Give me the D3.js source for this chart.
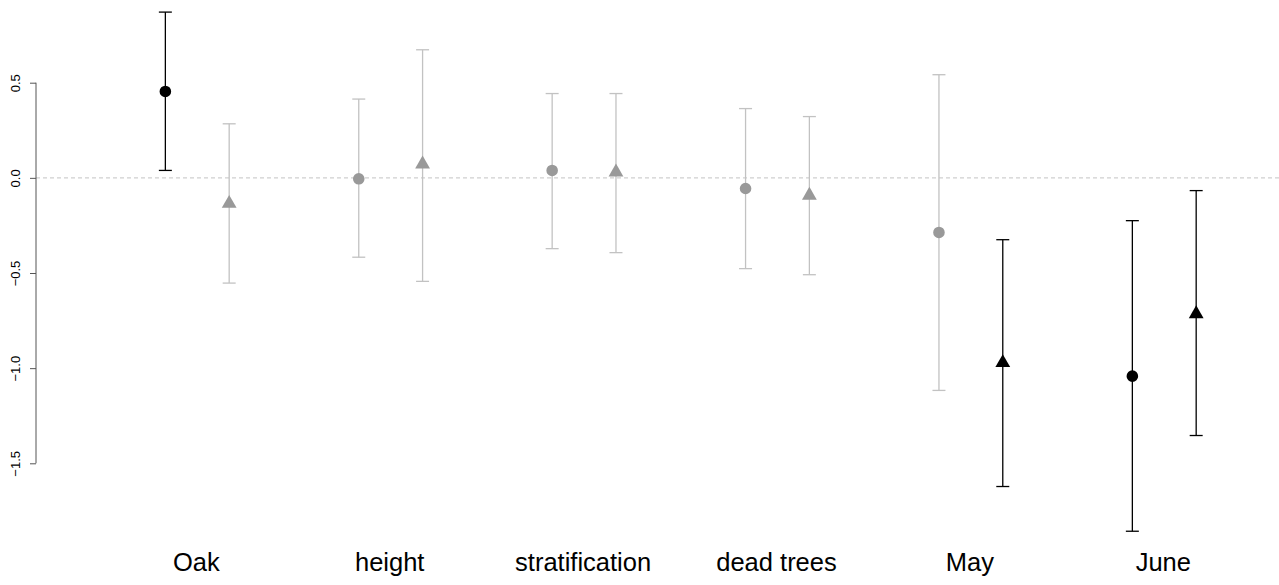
<!DOCTYPE html>
<html>
<head>
<meta charset="utf-8">
<script src="https://cdn.jsdelivr.net/npm/d3@7"></script>
<style>
  html, body { margin: 0; padding: 0; background: #fff; }
  svg { display: block; font-family: "Liberation Sans", Arial, sans-serif; }
</style>
</head>
<body>
<div id="chart"></div>
<script>
// categories along the x axis
const categories = ["Oak", "height", "stratification", "dead trees", "May", "June"];

// first estimate per category (circles)
const circleEst = [0.454, -0.005, 0.039, -0.056, -0.287, -1.042];
const circleLo = [0.039, -0.417, -0.372, -0.477, -1.117, -1.857];
const circleHi = [0.871, 0.414, 0.443, 0.364, 0.542, -0.225];

// second estimate per category (triangles)
const triEst = [-0.135, 0.072, 0.030, -0.092, -0.972, -0.715];
const triLo = [-0.553, -0.544, -0.393, -0.509, -1.622, -1.354];
const triHi = [0.284, 0.673, 0.443, 0.322, -0.325, -0.067];

const yTicks = [0.5, 0.0, -0.5, -1.0, -1.5];

const width = 1279;
const height = 585;

const svg = d3.select("#chart")
  .append("svg")
  .attr("width", width)
  .attr("height", height);

const x = d3.scaleLinear().domain([0, 5]).range([196.3, 1163.3]);
const y = d3.scaleLinear().domain([-1.5, 0.5]).range([463.3, 82.7]);

// build point records
const points = [];
categories.forEach((c, i) => {
  points.push({ i: i, off: -0.16, est: circleEst[i], lo: circleLo[i], hi: circleHi[i], shape: "circle" });
  points.push({ i: i, off: 0.17, est: triEst[i], lo: triLo[i], hi: triHi[i], shape: "triangle" });
});
// black when the interval excludes zero
points.forEach(d => { d.sig = d.lo > 0 || d.hi < 0; });

// zero reference line
svg.append("line")
  .attr("x1", 36).attr("x2", width)
  .attr("y1", y(0)).attr("y2", y(0))
  .attr("stroke", "#cfcfcf")
  .attr("stroke-width", 1.2)
  .attr("stroke-dasharray", "4,3");

// y axis
const yAxis = svg.append("g")
  .attr("transform", "translate(36,0)")
  .call(d3.axisLeft(y).tickValues(yTicks).tickSize(6).tickFormat(d3.format(".1f")));
yAxis.select(".domain").attr("stroke", "#555").attr("d", `M0,${y(0.5)}V${y(-1.5)}`);
yAxis.selectAll(".tick line").attr("stroke", "#555");
yAxis.selectAll(".tick text")
  .attr("x", 0).attr("dy", 0)
  .attr("transform", "translate(-16,0) rotate(-90)")
  .attr("text-anchor", "middle")
  .attr("font-size", 13)
  .attr("font-family", "Liberation Sans, Arial, sans-serif")
  .attr("fill", "#000");

// error bars
const capW = 6.5;
const bars = svg.append("g");
points.forEach(d => {
  const cx = x(d.i + d.off);
  const col = d.sig ? "#000" : "#c2c2c2";
  const g = bars.append("g").attr("stroke", col).attr("stroke-width", 1.3);
  g.append("line").attr("x1", cx).attr("x2", cx).attr("y1", y(d.hi)).attr("y2", y(d.lo));
  g.append("line").attr("x1", cx - capW).attr("x2", cx + capW).attr("y1", y(d.hi)).attr("y2", y(d.hi));
  g.append("line").attr("x1", cx - capW).attr("x2", cx + capW).attr("y1", y(d.lo)).attr("y2", y(d.lo));
});

// points
const tri = d3.symbol().type(d3.symbolTriangle).size(95);
svg.append("g").selectAll("path")
  .data(points)
  .enter()
  .append("path")
  .attr("transform", d => `translate(${x(d.i + d.off)},${y(d.est)})`)
  .attr("d", d => d.shape === "circle"
    ? d3.symbol().type(d3.symbolCircle).size(Math.PI * 5.8 * 5.8)()
    : tri())
  .attr("fill", d => d.sig ? "#000" : "#999");

// category labels
svg.append("g").selectAll("text")
  .data(categories)
  .enter()
  .append("text")
  .attr("x", (d, i) => x(i))
  .attr("y", 571)
  .attr("text-anchor", "middle")
  .attr("font-size", 25.5)
  .attr("fill", "#000")
  .text(d => d);
</script>
</body>
</html>
